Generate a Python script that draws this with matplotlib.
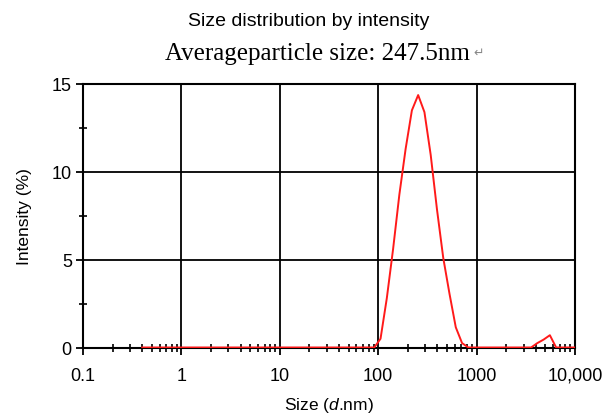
import numpy as np
import matplotlib
matplotlib.use('Agg')
import matplotlib.pyplot as plt
from matplotlib.ticker import FixedLocator, LogLocator, NullFormatter

plt.rcParams['font.family'] = ['Liberation Sans', 'DejaVu Sans']
plt.rcParams['mathtext.fontset'] = 'custom'
plt.rcParams['mathtext.it'] = 'Liberation Sans:italic'
plt.rcParams['mathtext.rm'] = 'Liberation Sans'

# size bins (d.nm) and intensity (%)
size_nm = [0.4, 1, 10, 50, 91.28, 105.7, 122.4, 141.8, 164.2, 190.1, 220.2,
           255.0, 295.3, 342.0, 396.1, 458.7, 531.2, 615.1, 712.4, 825.0,
           1000, 2000, 3580, 4145, 4801, 5560, 6439, 7456, 8635, 10000]
intensity = [0, 0, 0, 0, 0, 0.5, 2.8, 5.6, 8.7, 11.3, 13.5,
             14.37, 13.4, 10.96, 7.86, 5.1, 3.05, 1.15, 0.25, 0,
             0, 0, 0, 0.25, 0.45, 0.7, 0, 0, 0, 0]

x_ticks = [0.1, 1, 10, 100, 1000, 10000]
x_labels = ['0.1', '1', '10', '100', '1000', '10,000']
y_ticks = [0, 5, 10, 15]

fig = plt.figure(figsize=(6.11, 4.14), dpi=100)
ax = fig.add_axes([0.1358, 0.1582, 0.8052, 0.6365])

ax.plot(size_nm, intensity, color='#ff1a1a', lw=1.4, zorder=3)

ax.set_xscale('log')
ax.set_xlim(0.1, 10000)
ax.set_ylim(0, 15)
ax.set_xticks(x_ticks)
ax.set_xticklabels(x_labels)
ax.xaxis.set_minor_locator(LogLocator(base=10, subs=np.arange(2, 10)))
ax.xaxis.set_minor_formatter(NullFormatter())
ax.set_yticks(y_ticks)
ax.yaxis.set_minor_locator(FixedLocator([2.5, 7.5, 12.5]))

ax.grid(True, which='major', color='black', lw=1.3)
for s in ax.spines.values():
    s.set_linewidth(1.5)
    s.set_color('black')

ax.tick_params(axis='both', which='major', direction='out', length=5, width=1.3,
               labelsize=13)
ax.tick_params(axis='x', which='major', pad=9)
ax.tick_params(axis='y', which='major', pad=3)
ax.tick_params(axis='both', which='minor', direction='inout', length=6, width=1.2)

ax.set_xlabel(r'Size ($\it{d}$.nm)', fontsize=12.5, labelpad=8)
ax.set_ylabel('Intensity (%)', fontsize=12.5, labelpad=14)

fig.text(0.505, 0.947, 'Size distribution by intensity', ha='center', va='center',
         fontsize=14)
sub = fig.text(0.52, 0.87, 'Averageparticle size: 247.5nm', ha='center', va='center',
               fontsize=18, family=['Liberation Serif', 'DejaVu Serif'])
ax.annotate('\u21b5', xy=(1, 0.55), xycoords=sub, xytext=(2, 0), textcoords='offset points',
            ha='left', va='center', fontsize=9, color='#888888', family=['DejaVu Sans'],
            annotation_clip=False)

fig.savefig('out.png', dpi=100)
